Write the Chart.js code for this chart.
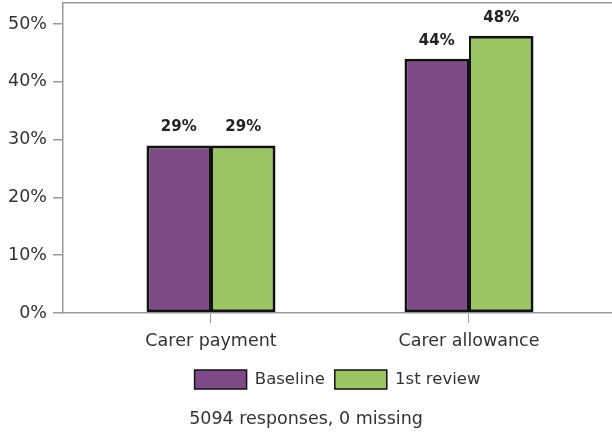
<!DOCTYPE html>
<html><head><meta charset="utf-8">
<script src="https://cdn.jsdelivr.net/npm/chart.js@4/dist/chart.umd.min.js"></script>
<style>html,body{margin:0;padding:0;background:#fff}#wrap{width:612px;height:436px}</style>
</head><body><div id="wrap"><canvas id="c" width="612" height="436"></canvas></div>
<script>
const categories = ['Carer payment', 'Carer allowance'];
const seriesNames = ['Baseline', '1st review'];
const baseline = [29, 44];
const firstReview = [29, 48];
const yTicks = [0, 10, 20, 30, 40, 50];
const footnote = '5094 responses, 0 missing';

const FAM = '"DejaVu Sans", sans-serif';
const TXT = '#333333';
const AXIS = '#9a9a9a';

const valueLabels = {
  id: 'valueLabels',
  afterDatasetsDraw(chart) {
    const ctx = chart.ctx;
    ctx.save();
    ctx.font = 'bold 15px ' + FAM;
    ctx.fillStyle = '#222222';
    ctx.textAlign = 'center';
    ctx.textBaseline = 'middle';
    chart.data.datasets.forEach((ds, di) => {
      chart.getDatasetMeta(di).data.forEach((bar, i) => {
        ctx.fillText(ds.data[i].y + '%', bar.x, bar.y - 18);
      });
    });
    ctx.restore();
  }
};

new Chart(document.getElementById('c'), {
  type: 'bar',
  data: {
    datasets: [
      {
        label: seriesNames[0],
        data: baseline.map((v, i) => ({ x: i, y: v })),
        backgroundColor: '#7e4a87',
        borderColor: '#111111',
        borderWidth: { left: 3, right: 2, top: 3, bottom: 3 },
        borderSkipped: false
      },
      {
        label: seriesNames[1],
        data: firstReview.map((v, i) => ({ x: i, y: v })),
        backgroundColor: '#9cc663',
        borderColor: '#111111',
        borderWidth: { left: 2, right: 3, top: 3, bottom: 3 },
        borderSkipped: false
      }
    ]
  },
  options: {
    responsive: false,
    animation: false,
    devicePixelRatio: 1,
    layout: { padding: { left: 0, top: 3, right: 0, bottom: 0 } },
    datasets: { bar: { barPercentage: 1, categoryPercentage: 0.5 } },
    scales: {
      x: {
        type: 'linear',
        min: -0.5736,
        max: 1.5543,
        offset: false,
        afterBuildTicks: s => { s.ticks = categories.map((c, i) => ({ value: i })); },
        afterFit: s => { s.height = 47; s.paddingLeft = 0; s.paddingRight = 0; },
        grid: { drawOnChartArea: false, offset: false, tickLength: 10, color: AXIS, lineWidth: 1 },
        border: { color: AXIS, width: 1.5 },
        ticks: {
          callback: v => categories[v],
          font: { family: FAM, size: 17.5 },
          color: TXT,
          padding: 8,
          maxRotation: 0,
          autoSkip: false
        }
      },
      xTop: {
        type: 'linear',
        position: 'top',
        afterFit: s => { s.height = 0; s.paddingLeft = 0; s.paddingRight = 0; },
        grid: { display: false },
        ticks: { display: false },
        border: { color: AXIS, width: 1.5 }
      },
      y: {
        min: 0,
        max: 53.66,
        afterBuildTicks: s => { s.ticks = yTicks.map(v => ({ value: v })); },
        afterFit: s => { s.width = 63; s.paddingTop = 0; s.paddingBottom = 0; },
        grid: { drawOnChartArea: false, tickLength: 10, color: AXIS, lineWidth: 1.5 },
        border: { color: AXIS, width: 1.5 },
        ticks: {
          callback: v => v + '%',
          font: { family: FAM, size: 17.5 },
          color: TXT,
          padding: 6
        }
      }
    },
    plugins: {
      legend: {
        position: 'bottom',
        fullSize: false,
        labels: {
          boxWidth: 52,
          boxHeight: 19,
          padding: 10,
          color: TXT,
          font: { family: FAM, size: 16.5 },
          generateLabels: chart => Chart.defaults.plugins.legend.labels.generateLabels(chart)
            .map(l => Object.assign(l, { lineWidth: 1.5 }))
        }
      },
      title: {
        display: true,
        position: 'bottom',
        text: footnote,
        color: TXT,
        font: { family: FAM, size: 17.5, weight: 'normal' },
        padding: { top: 10, bottom: 6 }
      },
      tooltip: { enabled: false }
    }
  },
  plugins: [valueLabels]
});
</script>
</body></html>
